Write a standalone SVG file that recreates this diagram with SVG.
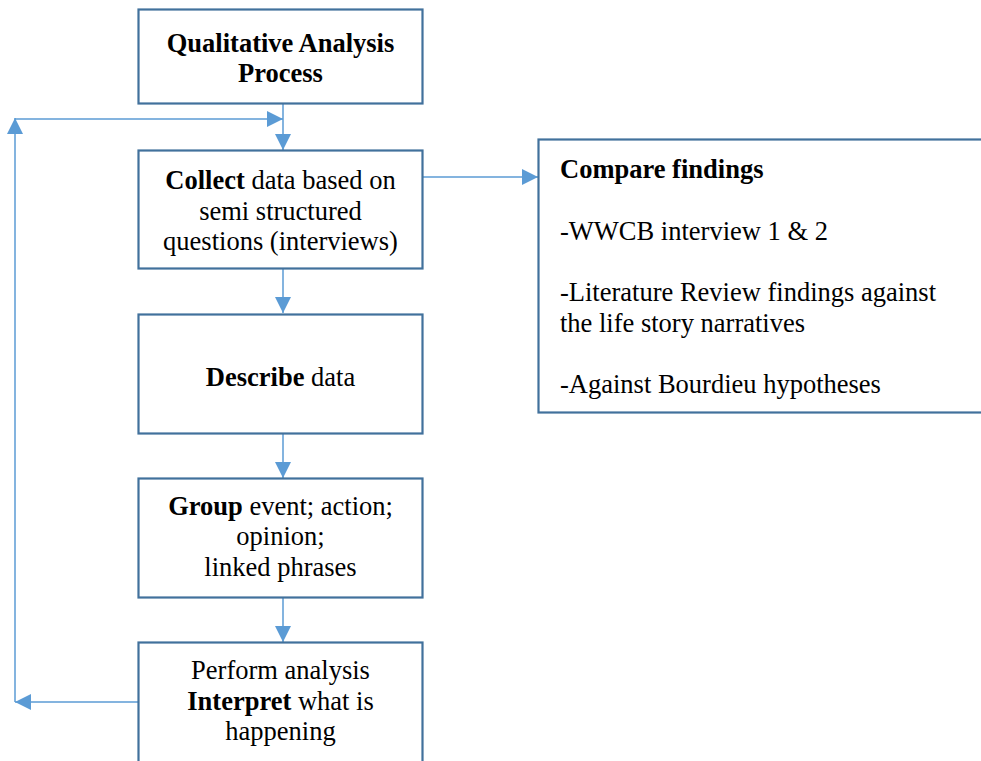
<svg xmlns="http://www.w3.org/2000/svg" width="981" height="761" viewBox="0 0 981 761">
<defs>
<style>
.box{fill:#fff;stroke:#41719C;stroke-width:2.2}
.t{font-family:"Liberation Serif","Times New Roman",serif;font-size:26.5px;fill:#000}
.c{text-anchor:middle}
.b{font-weight:bold}
.ln{fill:none;stroke:#5B9BD5;stroke-width:1.5}
</style>
<marker id="ah" viewBox="0 0 16 16" refX="16" refY="8" markerWidth="16" markerHeight="16" markerUnits="userSpaceOnUse" orient="auto" style="overflow:visible">
<path d="M0,0 L16,8 L0,16 z" fill="#5B9BD5"/>
</marker>
</defs>
<rect width="981" height="761" fill="#fff"/>
<g id="connectors">
<line class="ln" x1="283" y1="104" x2="283" y2="150" marker-end="url(#ah)"/>
<line class="ln" x1="283" y1="269" x2="283" y2="313" marker-end="url(#ah)"/>
<line class="ln" x1="283" y1="434" x2="283" y2="478" marker-end="url(#ah)"/>
<line class="ln" x1="283" y1="598" x2="283" y2="642" marker-end="url(#ah)"/>
<line class="ln" x1="423" y1="177" x2="538" y2="177" marker-end="url(#ah)"/>
<line class="ln" x1="138" y1="702" x2="15" y2="702" marker-end="url(#ah)"/>
<line class="ln" x1="15" y1="702" x2="15" y2="118" marker-end="url(#ah)"/>
<line class="ln" x1="15" y1="119" x2="283" y2="119" marker-end="url(#ah)"/>
</g>
<g id="n1">
<rect class="box" x="138.5" y="9.5" width="284" height="94"/>
<text class="t b c" x="280.5" y="52">Qualitative Analysis</text>
<text class="t b c" x="280.5" y="82">Process</text>
</g>
<g id="n2">
<rect class="box" x="138.5" y="150.5" width="284" height="118"/>
<text class="t c" x="280.5" y="189"><tspan class="b">Collect</tspan> data based on</text>
<text class="t c" x="280.5" y="220">semi structured</text>
<text class="t c" x="280.5" y="250">questions (interviews)</text>
</g>
<g id="n3">
<rect class="box" x="138.5" y="314.5" width="284" height="119"/>
<text class="t c" x="280.5" y="386"><tspan class="b">Describe</tspan> data</text>
</g>
<g id="n4">
<rect class="box" x="138.5" y="478.5" width="284" height="119"/>
<text class="t c" x="280.5" y="515"><tspan class="b">Group</tspan> event; action;</text>
<text class="t c" x="280.5" y="545">opinion;</text>
<text class="t c" x="280.5" y="576">linked phrases</text>
</g>
<g id="n5">
<rect class="box" x="138.5" y="642.5" width="284" height="140"/>
<text class="t c" x="280.5" y="679">Perform analysis</text>
<text class="t c" x="280.5" y="710"><tspan class="b">Interpret</tspan> what is</text>
<text class="t c" x="280.5" y="740">happening</text>
</g>
<g id="n6">
<rect class="box" x="538.5" y="139.5" width="460" height="273"/>
<text class="t b" x="560" y="178">Compare findings</text>
<text class="t" x="560" y="240">-WWCB interview 1 &amp; 2</text>
<text class="t" x="560" y="301">-Literature Review findings against</text>
<text class="t" x="560" y="332">the life story narratives</text>
<text class="t" x="560" y="393">-Against Bourdieu hypotheses</text>
</g>
</svg>
